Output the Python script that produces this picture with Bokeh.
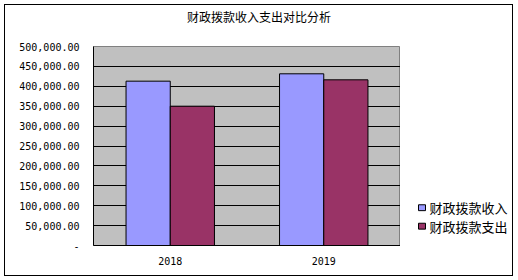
from bokeh.plotting import figure
from bokeh.layouts import row, column
from bokeh.models import FactorRange, Range1d, FixedTicker, Label
from bokeh.transform import dodge
from bokeh.core.properties import value
from bokeh.embed import file_html
from bokeh.resources import INLINE

title = "财政拨款收入支出对比分析"
years = ["2018", "2019"]
series_names = ["财政拨款收入", "财政拨款支出"]
income = [412900, 431400]
expense = [350000, 416300]
y_tick_values = [0, 50000, 100000, 150000, 200000, 250000, 300000, 350000, 400000, 450000, 500000]
y_tick_labels = ["-", "50,000.00", "100,000.00", "150,000.00", "200,000.00", "250,000.00",
                 "300,000.00", "350,000.00", "400,000.00", "450,000.00", "500,000.00"]
colors = ["#9999FF", "#993366"]

# inner size (inside the 1px chart border drawn at x=4..512, y=4..275)
W, H = 507, 270
TH = 33                      # title strip height
FL, FR = 88, 395             # frame left/right inside the chart
PT, FHT, PB = 8, 199, 30     # top border, frame height, bottom border of the main plot
BH = H - TH                  # height of the lower row

# title strip
t = figure(width=W, height=TH, output_backend="svg", toolbar_location=None,
           x_range=Range1d(0, W), y_range=Range1d(0, TH),
           x_axis_location=None, y_axis_location=None,
           min_border_left=0, min_border_right=0, min_border_top=0, min_border_bottom=0)
t.grid.visible = False
t.outline_line_color = None
t.background_fill_color = "white"
t.border_fill_color = "white"
t.add_layout(Label(x=W / 2, y=TH - 11, text=title, text_align="center", text_baseline="middle",
                   text_font="Noto Sans CJK SC", text_font_size="12px", text_color="black"))

p = figure(frame_width=FR - FL, frame_height=FHT, output_backend="svg", toolbar_location=None,
           x_range=FactorRange(*years, range_padding=0), y_range=Range1d(0, 500000),
           min_border_left=FL, min_border_right=0, min_border_top=PT, min_border_bottom=PB)
p.background_fill_color = "#C0C0C0"
p.border_fill_color = "white"
p.outline_line_color = "#808080"
p.outline_line_width = 1

src = dict(year=years, income=income, expense=expense)
p.vbar(x=dodge("year", -0.144, range=p.x_range), top="income", width=0.288, source=src,
       fill_color=colors[0], line_color="black", line_width=1)
p.vbar(x=dodge("year", 0.144, range=p.x_range), top="expense", width=0.288, source=src,
       fill_color=colors[1], line_color="black", line_width=1)

p.xgrid.grid_line_color = None
p.ygrid.grid_line_color = "black"
p.ygrid.grid_line_width = 1
p.yaxis.ticker = FixedTicker(ticks=y_tick_values)
p.yaxis.major_label_overrides = {v: l for v, l in zip(y_tick_values, y_tick_labels)}

for ax in (p.xaxis[0], p.yaxis[0]):
    ax.axis_line_color = "black"
    ax.major_tick_in = 0
    ax.major_tick_out = 0
    ax.minor_tick_line_color = None
    ax.major_label_text_font = "DejaVu Sans Mono"
    ax.major_label_text_font_size = "10px"
    ax.major_label_text_color = "black"
p.yaxis.major_label_standoff = 14
p.xaxis.major_label_standoff = 11

# legend strip on the right (1 unit = 1 px, y measured up from the strip bottom)
LW = W - FR
q = figure(width=LW, height=BH, output_backend="svg", toolbar_location=None,
           x_range=Range1d(0, LW), y_range=Range1d(0, BH),
           x_axis_location=None, y_axis_location=None,
           min_border_left=0, min_border_right=0, min_border_top=0, min_border_bottom=0)
q.grid.visible = False
q.outline_line_color = None
q.background_fill_color = "white"
q.border_fill_color = "white"
ys = [45 - 22 * i for i in range(len(series_names))]
q.rect(x=[21.5] * len(series_names), y=ys, width=7, height=7,
       fill_color=colors, line_color="black", line_width=1)
q.text(x=[29] * len(series_names), y=ys, text=series_names, text_baseline="middle",
       text_align="left", text_font=value("Noto Sans CJK SC"), text_font_size="13px",
       text_color="black")

layout = column(t, row(p, q, spacing=0), spacing=0,
                styles={"border": "1px solid black", "margin": "4px 0 0 4px"})

open("out.html", "w").write(file_html(layout, INLINE))
